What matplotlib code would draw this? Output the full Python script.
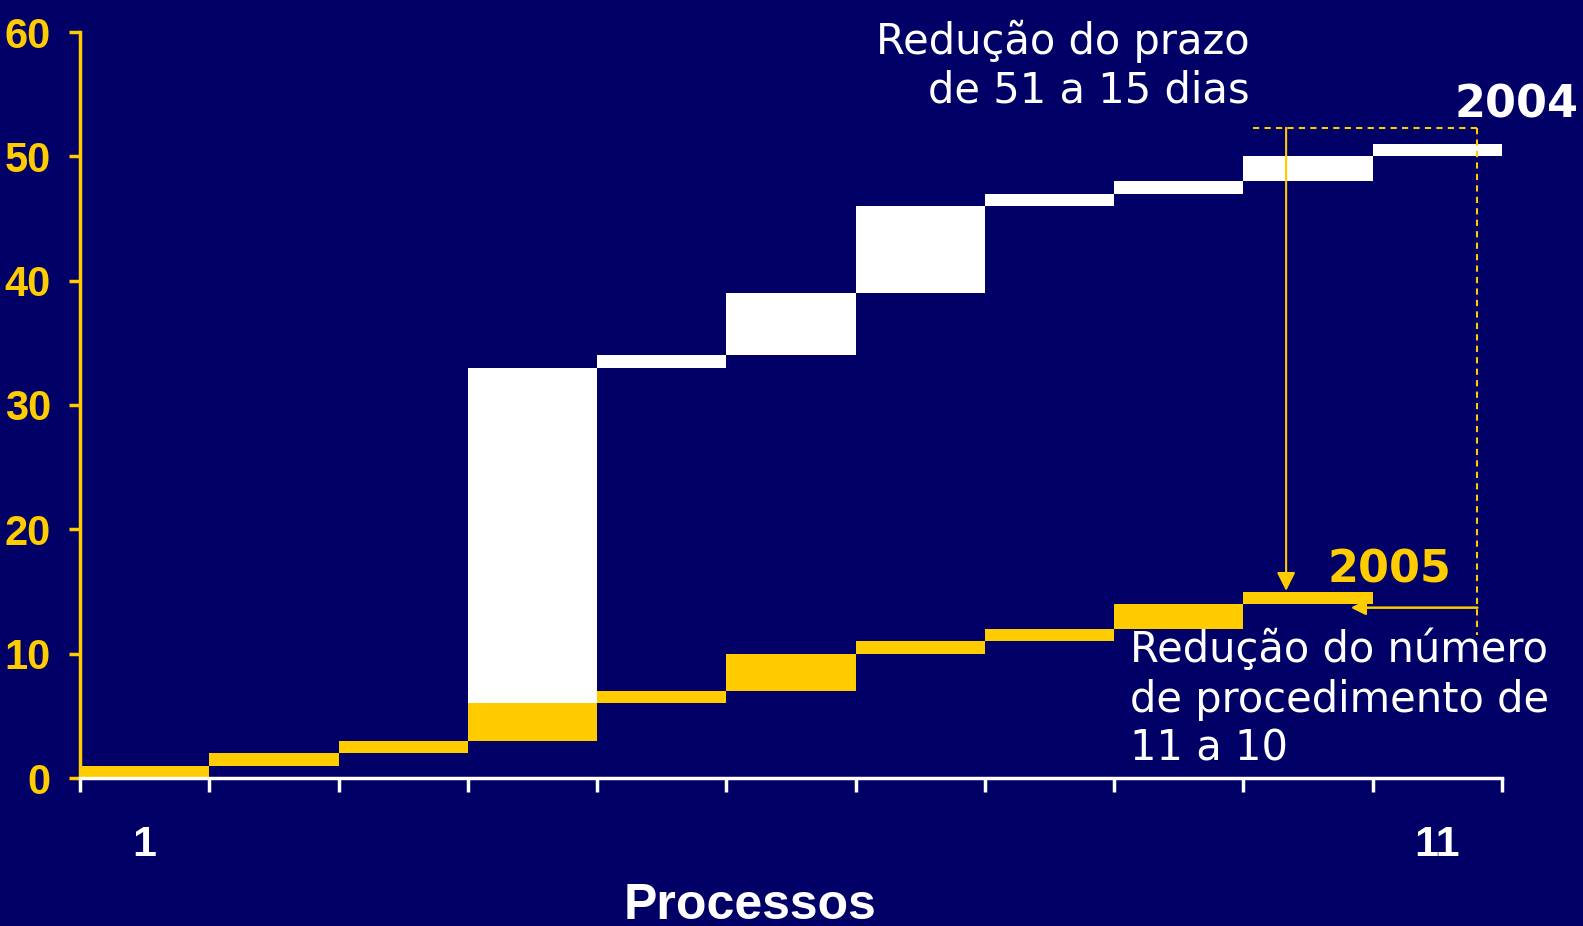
import matplotlib.pyplot as plt
import numpy

# Duration (days) of each process step
dias_2004 = [1, 1, 1, 30, 1, 5, 7, 1, 1, 2, 1]
dias_2005 = [1, 1, 1, 3, 1, 3, 1, 1, 2, 1]
xtick_labels = ['1', '11']

navy = '#000066'
yellow = '#FFCC00'
narrow = ['Liberation Sans Narrow', 'Liberation Sans', 'DejaVu Sans']

if __name__ == '__main__':
    fig = plt.figure(figsize=(15.83, 9.26), dpi=100, facecolor=navy)
    ax = fig.add_axes([80 / 1583, 1 - 778 / 926, 1422 / 1583, 746 / 926])
    ax.set_facecolor(navy)

    # Waterfall bars: each step starts where the previous one ended
    top_04 = numpy.cumsum(dias_2004)
    top_05 = numpy.cumsum(dias_2005)
    x_04 = numpy.arange(len(dias_2004))
    x_05 = numpy.arange(len(dias_2005))
    ax.bar(x_04, dias_2004, bottom=top_04 - dias_2004, width=1, align='edge',
           color='white', linewidth=0)
    ax.bar(x_05, dias_2005, bottom=top_05 - dias_2005, width=1, align='edge',
           color=yellow, linewidth=0)

    ax.set_xlim(0, len(dias_2004))
    ax.set_ylim(0, 60)

    # Axes styling
    ax.spines['top'].set_visible(False)
    ax.spines['right'].set_visible(False)
    ax.spines['left'].set_color(yellow)
    ax.spines['left'].set_linewidth(2.5)
    ax.spines['bottom'].set_color('white')
    ax.spines['bottom'].set_linewidth(2.5)

    ax.set_yticks(range(0, 61, 10))
    ax.tick_params(axis='y', colors=yellow, length=8, width=2.5, pad=13)
    for lab in ax.get_yticklabels():
        lab.set_family(narrow)
        lab.set_fontweight('bold')
        lab.set_fontsize(30)

    ax.set_xticks(range(0, len(dias_2004) + 1))
    ax.set_xticklabels([])
    ax.tick_params(axis='x', which='major', colors='white', length=10, width=2.5)
    ax.set_xticks([0.5, len(dias_2004) - 0.5], minor=True)
    ax.set_xticklabels(xtick_labels, minor=True)
    ax.tick_params(axis='x', which='minor', length=0, pad=34, labelcolor='white')
    for lab in ax.get_xticklabels(minor=True):
        lab.set_family(narrow)
        lab.set_fontweight('bold')
        lab.set_fontsize(31)

    fig.text(750 / 1583, 1 - 919 / 926, 'Processos', color='white', fontsize=36,
             fontweight='bold', family=['Liberation Sans', 'DejaVu Sans'],
             ha='center', va='baseline')

    # Annotations
    ax.plot([9.07, 10.81], [52.3, 52.3], color=yellow, lw=1.5, ls=(0, (3, 2.5)))
    ax.plot([10.81, 10.81], [52.3, 11.5], color=yellow, lw=1.5, ls=(0, (3, 2.5)))
    ax.annotate('', xy=(9.33, 15.05), xytext=(9.33, 52.3),
                arrowprops=dict(arrowstyle='-|>', color=yellow, lw=1.5,
                                mutation_scale=28, shrinkA=0, shrinkB=0))
    ax.annotate('', xy=(9.83, 13.7), xytext=(10.81, 13.7),
                arrowprops=dict(arrowstyle='-|>', color=yellow, lw=1.8,
                                mutation_scale=22, shrinkA=0, shrinkB=0))

    ax.text(9.05, 54.3, 'Redução do prazo\nde 51 a 15 dias', color='white',
            fontsize=30, ha='right', va='baseline', linespacing=1.22)
    ax.text(8.12, 1.37, 'Redução do número\nde procedimento de\n11 a 10',
            color='white', fontsize=30, ha='left', va='baseline', linespacing=1.22)
    ax.text(10.63, 53.1, '2004', color='white', fontsize=32, fontweight='bold',
            ha='left', va='baseline', clip_on=False)
    ax.text(9.65, 15.7, '2005', color=yellow, fontsize=32, fontweight='bold',
            ha='left', va='baseline')

    plt.savefig('out.png', facecolor=navy)
